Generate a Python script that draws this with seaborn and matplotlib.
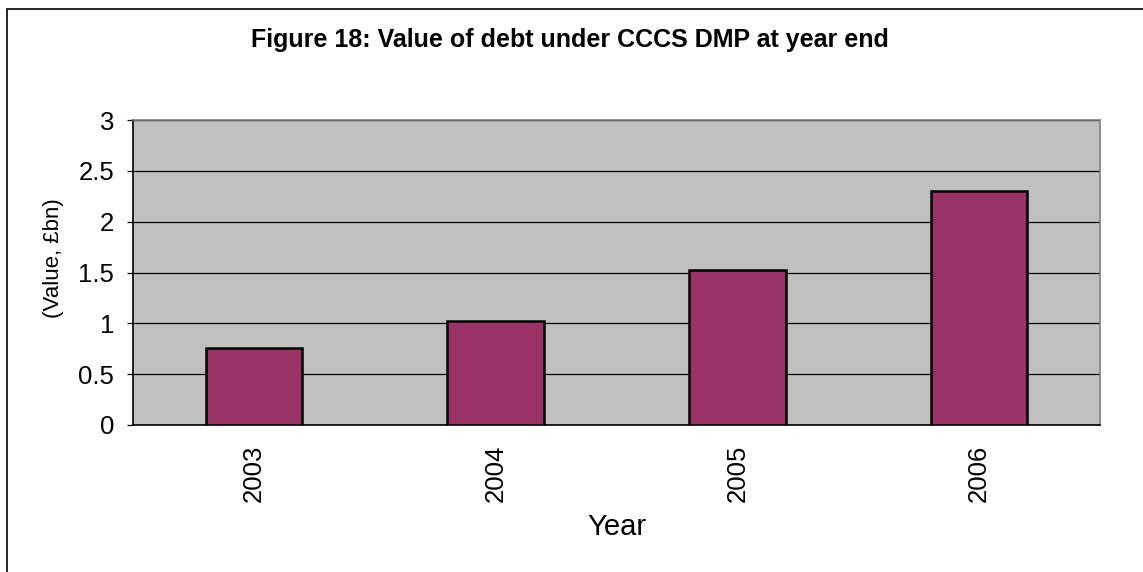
import matplotlib
matplotlib.use("Agg")
import matplotlib.pyplot as plt
import seaborn as sns
import pandas as pd
from matplotlib.patches import Rectangle

years = ["2003", "2004", "2005", "2006"]
values = [0.76, 1.02, 1.52, 2.30]
title = "Figure 18: Value of debt under CCCS DMP at year end"

sns.set_style("white")
plt.rcParams['font.family'] = ['Liberation Sans', 'DejaVu Sans']
plt.rcParams['text.color'] = 'black'
plt.rcParams['axes.labelcolor'] = 'black'
plt.rcParams['xtick.color'] = 'black'
plt.rcParams['ytick.color'] = 'black'

df = pd.DataFrame({"Year": years, "Value": values})

fig = plt.figure(figsize=(11.43, 5.72), dpi=100)
ax = fig.add_axes([133/1143, 1-425/572, (1100-133)/1143, (425-120)/572])
ax.set_facecolor("#c0c0c0")

sns.barplot(data=df, x="Year", y="Value", ax=ax, color="#993366",
            edgecolor="black", linewidth=1.8, width=0.4, saturation=1, zorder=3)

ax.set_ylim(0, 3)
ax.set_xlim(-0.5, 3.5)
ax.set_yticks([0, 0.5, 1, 1.5, 2, 2.5, 3])
ax.set_yticklabels(["0", "0.5", "1", "1.5", "2", "2.5", "3"])
ax.yaxis.grid(True, color="black", linewidth=0.9, zorder=0)
ax.set_axisbelow(True)

ax.set_xticks(range(len(years)))
ax.set_xticklabels(years, rotation=90)
ax.set_xticks([-0.5, 0.5, 1.5, 2.5, 3.5], minor=True)
ax.tick_params(axis="x", which="major", length=0, pad=14, labelsize=18.5)
ax.tick_params(axis="x", which="minor", length=4.5, width=0.9, color="black", direction="out")
ax.tick_params(axis="y", which="major", length=4.5, width=0.9, color="black", direction="out",
               left=True, labelsize=18.5, pad=9)

for s in ax.spines.values():
    s.set_color("#808080")
    s.set_linewidth(1.2)
ax.spines["left"].set_color("black")
ax.spines["bottom"].set_color("black")

ax.set_xlabel("Year", fontsize=21)
ax.set_ylabel("(Value, £bn)", fontsize=16)
ax.xaxis.set_label_coords(0.5005, -0.29)
ax.yaxis.set_label_coords(-0.0714, 0.546)

fig.text(570/1143, 1-40/572, title, ha="center", va="center", fontsize=18, fontweight="bold")

fig.patches.append(Rectangle((7/1143, -0.1), 1.1, 1-9/572+0.1, transform=fig.transFigure,
                             fill=False, edgecolor="black", linewidth=1.2))

fig.savefig("out.png", dpi=100)
